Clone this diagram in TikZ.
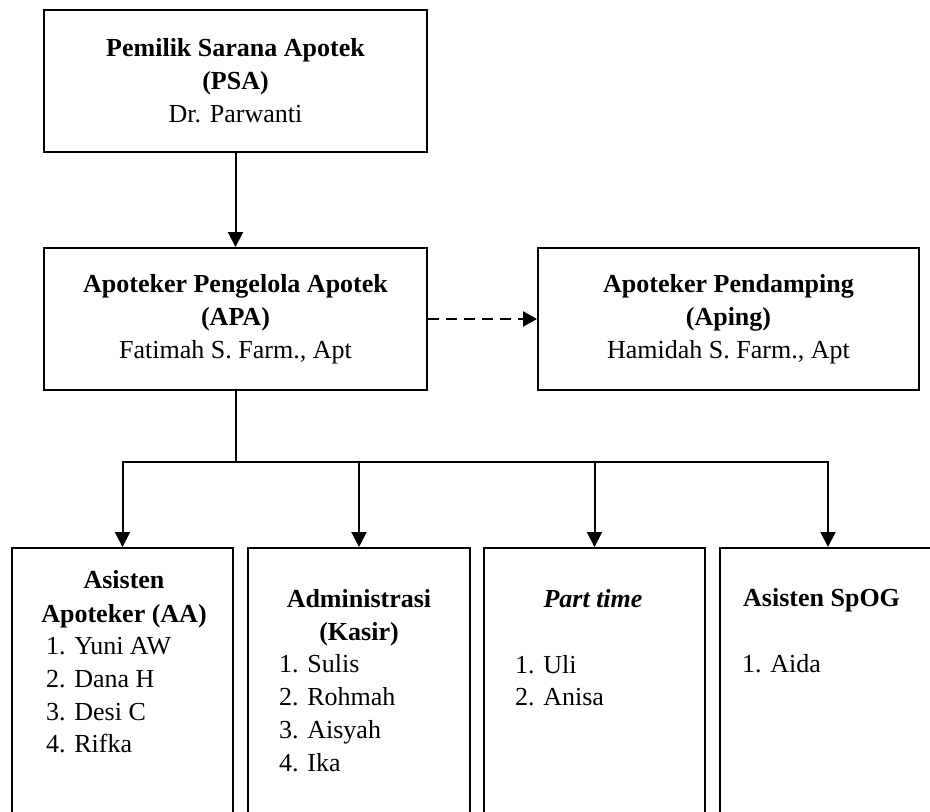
\documentclass[tikz,border=0pt]{standalone}
\usepackage{fontspec}
\setmainfont{Liberation Serif}
\usetikzlibrary{arrows.meta}
\begin{document}
\begin{tikzpicture}[x=1pt,y=-1pt,
  box/.style={draw, line width=2pt, rectangle, inner sep=0pt},
  txt/.style={font=\fontsize{26}{33}\selectfont, inner sep=0pt, align=center},
  lst/.style={font=\fontsize{26}{33}\selectfont, inner sep=0pt, anchor=base west},
  arr/.style={line width=2pt, -{Triangle[length=15pt,width=15pt]}},
  dsh/.style={line width=2.4pt, dash pattern=on 11pt off 7pt, -{Triangle[length=14pt,width=15pt]}},
  ln/.style={line width=2pt}]
\useasboundingbox[fill=white] (0,0) rectangle (930,812);
% top boxes
\node[box, minimum width=383pt, minimum height=142pt] (psa) at (235.5,81) {};
\node[txt] (psat) at (235.5,81) {\textbf{Pemilik Sarana Apotek}\\\textbf{(PSA)}\\Dr. Parwanti};
\node[box, minimum width=383pt, minimum height=142pt] (apa) at (235.5,319) {};
\node[txt] (apat) at (235.5,319) {\textbf{Apoteker Pengelola Apotek}\\\textbf{(APA)}\\Fatimah S. Farm., Apt};
\node[box, minimum width=381pt, minimum height=142pt] (aping) at (728.5,319) {};
\node[txt] (apingt) at (728.5,319) {\textbf{Apoteker Pendamping}\\\textbf{(Aping)}\\Hamidah S. Farm., Apt};
% bottom boxes (cut off by page bottom)
\node[box, minimum width=221pt, minimum height=292pt] (aa) at (122.5,694) {};
\node[box, minimum width=222pt, minimum height=292pt] (adm) at (359,694) {};
\node[box, minimum width=221pt, minimum height=292pt] (pt) at (594.5,694) {};
\node[box, minimum width=216pt, minimum height=292pt] (spog) at (828,694) {};
% texts in bottom boxes
\node[txt, anchor=base] (aa1) at (124,588) {\textbf{Asisten}};
\node[txt, anchor=base] (aa2) at (124,622) {\textbf{Apoteker (AA)}};
\node[lst] (aa3) at (46,654) {1. Yuni AW};
\node[lst] (aa4) at (46,687) {2. Dana H};
\node[lst] (aa5) at (46,720) {3. Desi C};
\node[lst] (aa6) at (46,752) {4. Rifka};
\node[txt, anchor=base] (adm1) at (359,607) {\textbf{Administrasi}};
\node[txt, anchor=base] (adm2) at (359,640) {\textbf{(Kasir)}};
\node[lst] (adm3) at (279,672) {1. Sulis};
\node[lst] (adm4) at (279,705) {2. Rohmah};
\node[lst] (adm5) at (279,738) {3. Aisyah};
\node[lst] (adm6) at (279,771) {4. Ika};
\node[txt, anchor=base] (pt1) at (593,607) {\textbf{\itshape Part time}};
\node[lst] (pt2) at (515,673) {1. Uli};
\node[lst] (pt3) at (515,705) {2. Anisa};
\node[txt, anchor=base west] (sp1) at (743,606) {\textbf{Asisten SpOG}};
\node[lst] (sp2) at (742,672) {1. Aida};
% connectors
\draw[arr] (psa.south) -- (apa.north);
\draw[dsh] (apa.east) -- (aping.west);
\coordinate (j) at (235.5,462);
\draw[ln] (apa.south) -- (j);
\draw[arr] (j) -| (aa.north);
\draw[arr] (j) -| (adm.north);
\draw[arr] (j) -| (pt.north);
\draw[arr] (j) -| (spog.north);
\end{tikzpicture}
\end{document}
